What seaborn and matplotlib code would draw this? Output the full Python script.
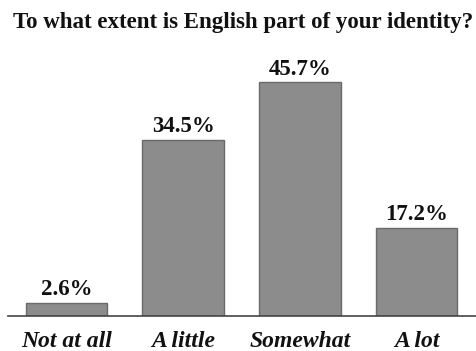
import matplotlib
matplotlib.use("Agg")
import matplotlib.pyplot as plt
import seaborn as sns
import pandas as pd

categories = ["Not at all", "A little", "Somewhat", "A lot"]
percentages = [2.6, 34.5, 45.7, 17.2]
title = "To what extent is English part of your identity?"

df = pd.DataFrame({"answer": categories, "pct": percentages})

sns.set_theme(style="white")
plt.rcParams["font.family"] = ["Liberation Serif", "DejaVu Serif"]

fig = plt.figure(figsize=(4.76, 3.51), dpi=100)
ax = fig.add_axes([8 / 476, 35 / 351, 468 / 476, 266 / 351])

sns.barplot(data=df, x="answer", y="pct", color="#8c8c8c", width=0.70,
            edgecolor="#6a6a6a", linewidth=1.0, saturation=1, ax=ax)

ax.set_xlim(-0.5, 3.51)
ax.set_ylim(0, 52)

for i, v in enumerate(percentages):
    ax.annotate(f"{v}%", (i, v), xytext=(0, 5.5), textcoords="offset points",
                ha="center", va="baseline", fontsize=16.5, fontweight="bold",
                color="#111111")

ax.set_xlabel("")
ax.set_ylabel("")
ax.set_yticks([])
for side in ["top", "right", "left"]:
    ax.spines[side].set_visible(False)
ax.spines["bottom"].set_color("#444444")
ax.spines["bottom"].set_linewidth(1.2)
ax.tick_params(axis="x", length=0, pad=11)
for lab in ax.get_xticklabels():
    lab.set_fontsize(17)
    lab.set_fontweight("bold")
    lab.set_fontstyle("italic")
    lab.set_color("#111111")

fig.text(243 / 476, 1 - 28 / 351, title, ha="center", va="baseline",
         fontsize=16.5, fontweight="bold", color="#111111")

fig.savefig("out.png", dpi=100, facecolor="white")
